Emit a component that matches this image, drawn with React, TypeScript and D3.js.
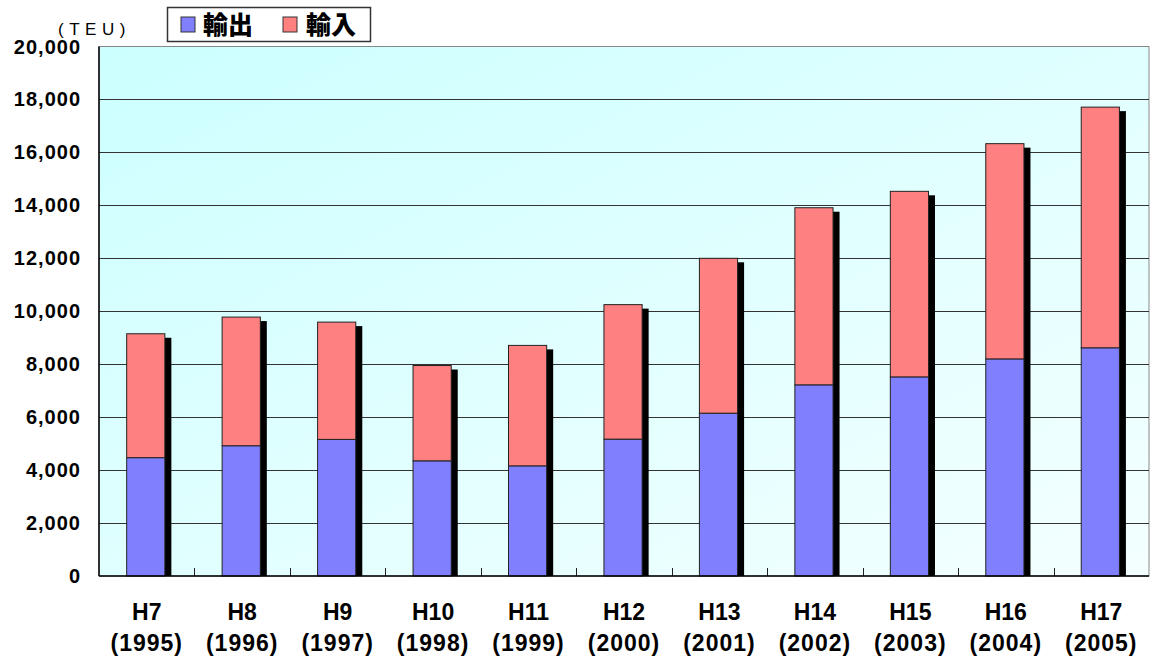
import React from "react";
import * as d3 from "d3";

const categories = ["H7", "H8", "H9", "H10", "H11", "H12", "H13", "H14", "H15", "H16", "H17"];
const years = ["(1995)", "(1996)", "(1997)", "(1998)", "(1999)", "(2000)", "(2001)", "(2002)", "(2003)", "(2004)", "(2005)"];
const exportsTEU = [4470, 4920, 5160, 4350, 4160, 5170, 6150, 7220, 7520, 8200, 8620];
const importsTEU = [4680, 4860, 4430, 3600, 4550, 5080, 5850, 6690, 7010, 8130, 9090];
const yTicks = [0, 2000, 4000, 6000, 8000, 10000, 12000, 14000, 16000, 18000, 20000];
const seriesNames = ["輸出", "輸入"];
const seriesColors = ["#8080FF", "#FF8080"];

const W = 1153;
const H = 657;
const left = 99;
const right = 1149;
const top = 46.5;
const bottom = 576;

export default function App() {
  const x = d3.scaleBand<string>().domain(categories).range([left, right]).padding(0);
  const y = d3.scaleLinear().domain([0, 20000]).range([bottom, top]);
  const bw = x.bandwidth();
  const barW = bw * 0.4;
  const barOff = bw * 0.29;
  const fmt = d3.format(",");
  const numFont = "'Liberation Sans', Arial, sans-serif";

  return (
    <div style={{ position: "absolute", left: 0, top: 0 }}>
      <svg width={W} height={H} style={{ display: "block", background: "#ffffff" }}>
        <defs>
          <linearGradient id="bg" x1="0" y1="0" x2="1" y2="1">
            <stop offset="0" stopColor="#CCFFFF" />
            <stop offset="1" stopColor="#F4FFFF" />
          </linearGradient>
          <clipPath id="plotClip">
            <rect x={left} y={top} width={right - left} height={bottom - top} />
          </clipPath>
        </defs>
        <rect x={left} y={top} width={right - left} height={bottom - top} fill="url(#bg)" stroke="#888" strokeWidth={1} />
        {yTicks.slice(1, -1).map((t) => (
          <line key={t} x1={left} x2={right} y1={Math.round(y(t)) + 0.5} y2={Math.round(y(t)) + 0.5} stroke="#333" strokeWidth={1} />
        ))}
        {categories.slice(1).map((c) => (
          <line key={c} x1={Math.round(x(c)!) + 0.5} x2={Math.round(x(c)!) + 0.5} y1={bottom} y2={bottom - 8} stroke="#222" strokeWidth={1} />
        ))}
        <g clipPath="url(#plotClip)">
          {categories.map((c, i) => {
            const bx = x(c)! + barOff;
            const total = exportsTEU[i] + importsTEU[i];
            return (
              <rect key={"s" + c} x={bx + 6.5} y={y(total) + 4} width={barW} height={bottom - y(total)} fill="#000" />
            );
          })}
        </g>
        {categories.map((c, i) => {
          const bx = x(c)! + barOff;
          const e = exportsTEU[i];
          const t = e + importsTEU[i];
          return (
            <g key={c}>
              <rect x={bx} y={y(e)} width={barW} height={bottom - y(e)} fill={seriesColors[0]} stroke="#222" strokeWidth={1} />
              <rect x={bx} y={y(t)} width={barW} height={y(e) - y(t)} fill={seriesColors[1]} stroke="#222" strokeWidth={1} />
            </g>
          );
        })}
        <line x1={left} x2={left} y1={top} y2={bottom} stroke="#000" strokeWidth={1.5} />
        <line x1={left} x2={right} y1={bottom} y2={bottom} stroke="#000" strokeWidth={1.5} />
        {yTicks.map((t) => (
          <text key={t} x={81} y={y(t) + 7} textAnchor="end" fontFamily={numFont} fontWeight="bold" fontSize={20} letterSpacing={1} fill="#000">
            {fmt(t)}
          </text>
        ))}
        {categories.map((c, i) => {
          const cx = x(c)! + bw / 2;
          return (
            <g key={"l" + c}>
              <text x={cx} y={620} textAnchor="middle" fontFamily={numFont} fontWeight="bold" fontSize={23} fill="#000">
                {c}
              </text>
              <text x={cx} y={651} textAnchor="middle" fontFamily={numFont} fontWeight="bold" fontSize={23} letterSpacing={1} fill="#000">
                {years[i]}
              </text>
            </g>
          );
        })}
        <text x={58} y={35} fontFamily={numFont} fontSize={17} letterSpacing={5.5} fill="#000">
          (TEU)
        </text>
        <rect x={167.5} y={7.5} width={203} height={34} fill="#fff" stroke="#333" strokeWidth={1.5} />
        {seriesNames.map((n, i) => (
          <g key={n}>
            <rect x={181 + i * 102} y={17} width={14} height={15} fill={seriesColors[i]} stroke="#333" strokeWidth={1} />
            <text x={203 + i * 103} y={34} fontFamily="'Noto Sans CJK JP', sans-serif" fontWeight={900} fontSize={25} fill="#000">
              {n}
            </text>
          </g>
        ))}
      </svg>
    </div>
  );
}
